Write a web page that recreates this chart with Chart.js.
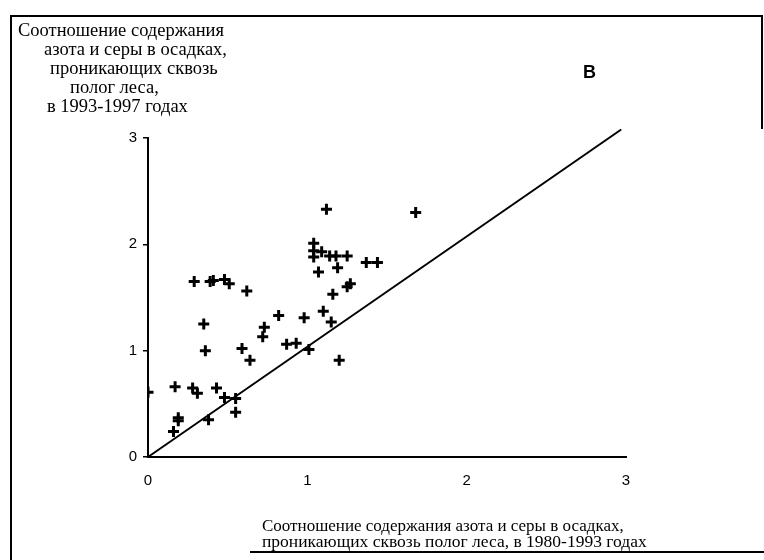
<!DOCTYPE html>
<html>
<head>
<meta charset="utf-8">
<script src="https://cdn.jsdelivr.net/npm/chart.js@4/dist/chart.umd.min.js"></script>
<style>
  html, body { margin: 0; padding: 0; background: #fff; }
  #wrap { position: relative; width: 764px; height: 560px; overflow: hidden; }
  canvas { position: absolute; left: 0; top: 0; }
  .serif { position: absolute; font-family: "Liberation Serif", "DejaVu Serif", serif; font-size: 17px; color: #000; white-space: nowrap; line-height: 1; }
  .ytitle { font-size: 18.5px; }
  .line { position: absolute; background: #000; }
</style>
</head>
<body>
<div id="wrap">
  <canvas id="chart" width="764" height="560"></canvas>

  <!-- page frame -->
  <div class="line" style="left:10px; top:16px; width:2px; height:544px;"></div>
  <div class="line" style="left:10px; top:15px; width:752px; height:2px;"></div>
  <div class="line" style="left:761px; top:15px; width:2px; height:114px;"></div>
  <div class="line" style="left:250px; top:551px; width:514px; height:2px;"></div>

  <!-- y axis title -->
  <div class="serif ytitle" style="left:18px; top:21px;">Соотношение содержания</div>
  <div class="serif ytitle" style="left:44px; top:40px;">азота и серы в осадках,</div>
  <div class="serif ytitle" style="left:50px; top:59px;">проникающих сквозь</div>
  <div class="serif ytitle" style="left:70px; top:78px;">полог леса,</div>
  <div class="serif ytitle" style="left:47px; top:97px;">в 1993-1997 годах</div>

  <!-- x axis title -->
  <div class="serif" style="left:262px; top:517px;">Соотношение содержания азота и серы в осадках,</div>
  <div class="serif" style="left:262px; top:533px; font-size:17.5px;">проникающих сквозь полог леса, в 1980-1993 годах</div>

  <!-- panel letter -->
  <div style="position:absolute; left:583px; top:62px; font-family:'Liberation Sans', Arial, sans-serif; font-size:18px; font-weight:bold; color:#000;">В</div>
</div>

<script>
// N/S ratio 1980-1993 (x) vs 1993-1997 (y)
const ratio8093 = [0.00, 0.17, 0.19, 0.19, 0.16, 0.28, 0.31, 0.35, 0.36, 0.38, 0.43, 0.48, 0.55, 0.55,
  0.59, 0.64, 0.62, 0.72, 0.73, 0.82, 0.87, 0.29, 0.39, 0.41, 0.48, 0.51, 0.98, 0.93, 1.01, 1.10,
  1.15, 1.20, 1.16, 1.25, 1.27, 1.12, 1.68, 1.04, 1.04, 1.09, 1.04, 1.14, 1.18, 1.25, 1.07, 1.19,
  1.37, 1.44];
const ratio9397 = [0.61, 0.66, 0.37, 0.34, 0.24, 0.65, 0.60, 1.25, 1.00, 0.35, 0.65, 0.56, 0.42, 0.55,
  1.02, 0.91, 1.56, 1.13, 1.22, 1.33, 1.06, 1.65, 1.65, 1.66, 1.67, 1.63, 1.31, 1.07, 1.01, 1.37,
  1.27, 0.91, 1.53, 1.60, 1.63, 2.33, 2.30, 2.01, 1.94, 1.93, 1.88, 1.89, 1.89, 1.89, 1.74, 1.78,
  1.83, 1.83];

// reference line
const refLineX = [0, 2.97];
const refLineY = [0, 3.08];

const axisTicks = [0, 1, 2, 3];

const points = ratio8093.map((x, i) => ({ x: x, y: ratio9397[i] }));
const refLine = refLineX.map((x, i) => ({ x: x, y: refLineY[i] }));

const tickFont = { family: 'Liberation Sans, Arial, sans-serif', size: 15 };

new Chart(document.getElementById('chart').getContext('2d'), {
  type: 'scatter',
  data: {
    datasets: [
      {
        data: points,
        pointStyle: 'cross',
        pointRadius: 5.5,
        pointBorderWidth: 3,
        borderColor: '#000',
        backgroundColor: '#000'
      },
      {
        type: 'line',
        data: refLine,
        borderColor: '#000',
        borderWidth: 2,
        pointRadius: 0,
        fill: false,
        clip: false
      }
    ]
  },
  options: {
    responsive: false,
    animation: false,
    layout: { padding: { left: 0, top: 138, right: 138, bottom: 63 } },
    plugins: {
      legend: { display: false },
      tooltip: { enabled: false }
    },
    scales: {
      x: {
        type: 'linear',
        min: 0,
        max: 3,
        afterBuildTicks: (s) => { s.ticks = axisTicks.map(v => ({ value: v })); },
        afterFit: (s) => { s.height = 40; },
        grid: { display: false },
        border: { display: true, color: '#000', width: 2 },
        ticks: { color: '#000', font: tickFont, padding: 7 }
      },
      y: {
        type: 'linear',
        min: 0,
        max: 3,
        afterBuildTicks: (s) => { s.ticks = axisTicks.map(v => ({ value: v })); },
        afterFit: (s) => { s.width = 148; },
        grid: { drawOnChartArea: false, drawTicks: true, tickLength: 5, color: '#000', lineWidth: 1.5 },
        border: { display: true, color: '#000', width: 2 },
        ticks: { color: '#000', font: tickFont, padding: 6 }
      }
    }
  }
});
</script>
</body>
</html>
